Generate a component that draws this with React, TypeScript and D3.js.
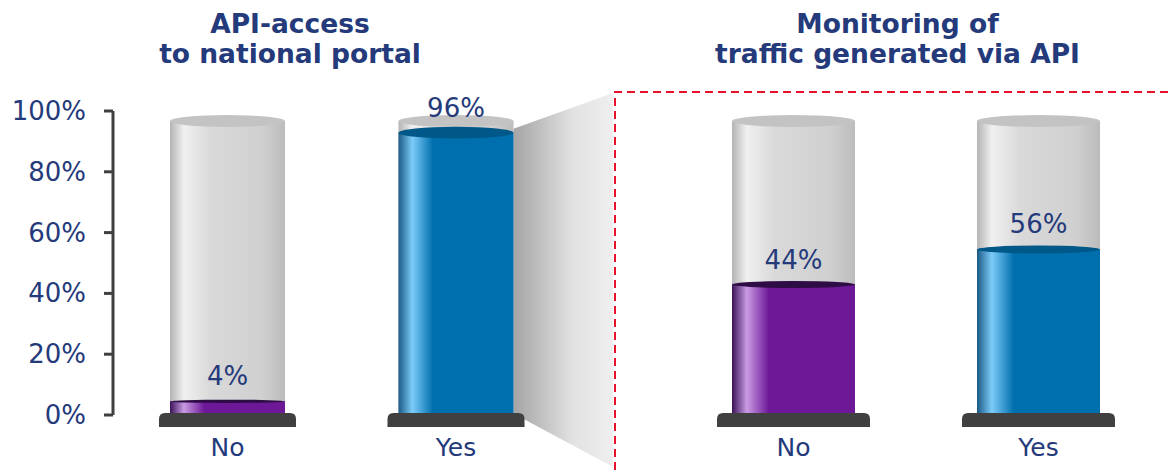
import React from "react";
import * as d3 from "d3";

const categories = ["No", "Yes"];
const panelTitles = [
  ["API-access", "to national portal"],
  ["Monitoring of", "traffic generated via API"],
];
const apiAccessValues = [4, 96];
const monitoringValues = [44, 56];
const tickValues = [0, 20, 40, 60, 80, 100];

const W = 1173;
const H = 470;
const navy = "#243a7a";
const font = "'DejaVu Sans', Verdana, sans-serif";

const yAxis = d3.scaleLinear().domain([0, 100]).range([415, 111]);
const yBar = d3.scaleLinear().domain([0, 100]).range([413, 121]);

const panels = [
  { values: apiAccessValues, x: d3.scalePoint().domain(categories).range([227.5, 456]), barW: 115, titleX: 290 },
  { values: monitoringValues, x: d3.scalePoint().domain(categories).range([793.5, 1038.5]), barW: 123, titleX: 897.5 },
];

const colorDefs: Record<string, { edge: string; hi: string; main: string; top: string }> = {
  No: { edge: "#3a1258", hi: "#c99be4", main: "#6c1897", top: "#2e0c45" },
  Yes: { edge: "#1b5a86", hi: "#7ccbf8", main: "#006fae", top: "#005888" },
};

function ry(v: number) {
  return 1.5 + 4.5 * (v / 100);
}

export default function App() {
  const p0 = panels[0];
  const yesRight = (p0.x("Yes") as number) + p0.barW / 2;
  const trap = [
    [yesRight, yBar(apiAccessValues[1]) - 4],
    [613, 93],
    [613, 467],
    [yesRight + 12, 420],
    [yesRight, 413],
  ];
  return (
    <svg width={W} height={H} style={{ position: "absolute", left: 0, top: 0, background: "#fff" }} fontFamily={font}>
      <defs>
        <linearGradient id="gGray" x1="0" x2="1" y1="0" y2="0">
          <stop offset="0" stopColor="#b4b4b4" />
          <stop offset="0.12" stopColor="#f0f0f0" />
          <stop offset="0.35" stopColor="#d9d9d9" />
          <stop offset="0.8" stopColor="#d0d0d0" />
          <stop offset="1" stopColor="#bcbcbc" />
        </linearGradient>
        {categories.map((c) => (
          <linearGradient key={c} id={"g" + c} x1="0" x2="1" y1="0" y2="0">
            <stop offset="0" stopColor={colorDefs[c].edge} />
            <stop offset="0.12" stopColor={colorDefs[c].hi} />
            <stop offset="0.3" stopColor={colorDefs[c].main} />
            <stop offset="1" stopColor={colorDefs[c].main} />
          </linearGradient>
        ))}
        <linearGradient id="gTrap" x1="0" x2="1" y1="0" y2="0">
          <stop offset="0" stopColor="#a4a4a4" />
          <stop offset="0.6" stopColor="#e2e2e2" />
          <stop offset="1" stopColor="#efefef" />
        </linearGradient>
      </defs>

      {/* zoom trapezoid */}
      <polygon points={trap.map((p) => p.join(",")).join(" ")} fill="url(#gTrap)" />

      {/* dashed frame */}
      <path d="M615,470 L615,92 L1173,92" fill="none" stroke="#e8112d" strokeWidth={2} strokeDasharray="8,5" />

      {/* titles */}
      {panels.map((p, i) => (
        <text key={i} x={p.titleX} textAnchor="middle" fontWeight="bold" fontSize={26.5} fill={navy}>
          <tspan x={p.titleX} y={33}>{panelTitles[i][0]}</tspan>
          <tspan x={p.titleX} y={63}>{panelTitles[i][1]}</tspan>
        </text>
      ))}

      {/* y axis */}
      <line x1={113} x2={113} y1={yAxis(100)} y2={yAxis(0)} stroke="#404040" strokeWidth={3} />
      {tickValues.map((t) => (
        <g key={t}>
          <line x1={104} x2={113} y1={yAxis(t)} y2={yAxis(t)} stroke="#404040" strokeWidth={3} />
          <text x={86} y={yAxis(t) + 9} textAnchor="end" fontSize={26} fill={navy}>
            {t + "%"}
          </text>
        </g>
      ))}

      {/* cylinders */}
      {panels.map((p, pi) =>
        categories.map((c, ci) => {
          const cx = p.x(c) as number;
          const bw = p.barW;
          const x0 = cx - bw / 2;
          const v = p.values[ci];
          const yTop = yBar(100);
          const yv = yBar(v);
          const yb = yBar(0);
          const ext = pi === 0 ? 11 : 15;
          return (
            <g key={pi + c}>
              <rect x={x0} y={yTop} width={bw} height={yb - yTop} fill="url(#gGray)" />
              <ellipse cx={cx} cy={yTop} rx={bw / 2} ry={ry(100)} fill="#c3c3c3" />
              <rect x={x0} y={yv} width={bw} height={yb - yv} fill={`url(#g${c})`} />
              <ellipse cx={cx} cy={yv} rx={bw / 2} ry={ry(v)} fill={colorDefs[c].top} />
              <path
                d={`M${x0 - ext},427 L${x0 - ext},419 Q${x0 - ext},413 ${x0 - ext + 6},413 L${x0 + bw + ext - 6},413 Q${x0 + bw + ext},413 ${x0 + bw + ext},419 L${x0 + bw + ext},427 Z`}
                fill="#404040"
              />
              <text x={cx} y={yv - 16} textAnchor="middle" fontSize={26} fill={navy}>
                {v + "%"}
              </text>
              <text x={cx} y={456} textAnchor="middle" fontSize={25} fill={navy}>
                {c}
              </text>
            </g>
          );
        })
      )}
    </svg>
  );
}
